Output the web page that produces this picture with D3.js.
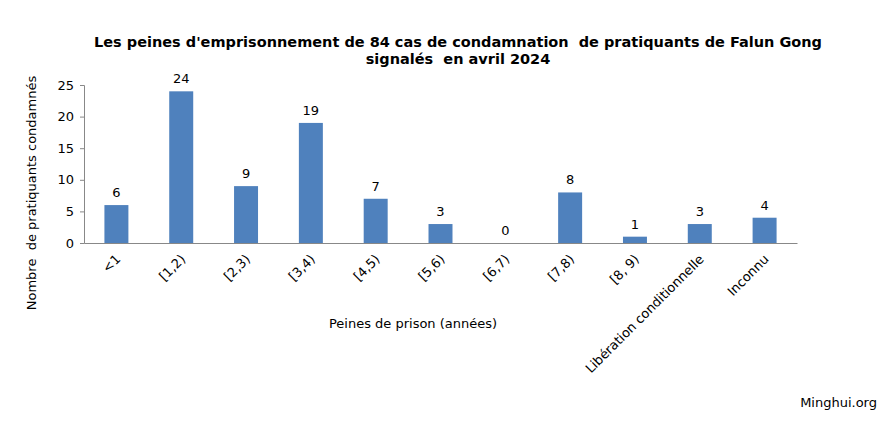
<!DOCTYPE html>
<html><head><meta charset="utf-8">
<script src="https://cdn.jsdelivr.net/npm/d3@7"></script>
<style>body{margin:0;background:#fff}svg{font-family:"DejaVu Sans",Verdana,sans-serif}svg text{white-space:pre}</style>
</head><body>
<script>
const categories = ["<1","[1,2)","[2,3)","[3,4)","[4,5)","[5,6)","[6,7)","[7,8)","[8, 9)","Libération conditionnelle","Inconnu"];
const values = [6,24,9,19,7,3,0,8,1,3,4];
const yTicks = [0,5,10,15,20,25];
const titleLines = ["Les peines d'emprisonnement de 84 cas de condamnation  de pratiquants de Falun Gong","signalés  en avril 2024"];

const W=896,H=432;
const svg=d3.select("body").append("svg").attr("width",W).attr("height",H);
const m={l:84,r:797,t:85,b:243};
const x=d3.scaleBand().domain(categories).range([m.l,m.r]).paddingInner(0.63).paddingOuter(0.315);
const y=d3.scaleLinear().domain([0,25]).range([m.b,m.t]);

svg.selectAll("text.title").data(titleLines).join("text")
 .attr("x",458).attr("y",(d,i)=>47+i*17).attr("text-anchor","middle")
 .attr("font-size",14.5).attr("font-weight","bold").attr("fill","#000").text(d=>d);

const ya=svg.append("g").attr("transform",`translate(${m.l},0)`)
 .call(d3.axisLeft(y).tickValues(yTicks).tickSize(4).tickPadding(6));
ya.select(".domain").attr("stroke","#888");
ya.selectAll(".tick line").attr("stroke","#888");
ya.selectAll("text").attr("font-size",13).attr("fill","#000").attr("font-family","DejaVu Sans, Verdana, sans-serif");

svg.selectAll("rect.bar").data(values).join("rect")
 .attr("x",(d,i)=>x(categories[i])).attr("y",d=>y(d))
 .attr("width",x.bandwidth()).attr("height",d=>y(0)-y(d)).attr("fill","#4f81bd");

const xa=svg.append("g").attr("transform",`translate(0,${m.b})`)
 .call(d3.axisBottom(x).tickSize(0).tickSizeOuter(0));
xa.select(".domain").attr("stroke","#888");
xa.selectAll("text").attr("font-size",13).attr("fill","#000")
 .attr("font-family","DejaVu Sans, Verdana, sans-serif")
 .attr("text-anchor","end").attr("dy",null).attr("y",0)
 .attr("transform","translate(5,17) rotate(-45)");

svg.selectAll("text.val").data(values).join("text")
 .attr("x",(d,i)=>x(categories[i])+x.bandwidth()/2).attr("y",d=>y(d)-8)
 .attr("text-anchor","middle").attr("font-size",13).attr("fill","#000").text(d=>d);

svg.append("text").attr("transform","translate(36,193) rotate(-90)").attr("text-anchor","middle")
 .attr("font-size",13).attr("fill","#000").text("Nombre  de pratiquants condamnés");
svg.append("text").attr("x",413).attr("y",328).attr("text-anchor","middle")
 .attr("font-size",13).attr("fill","#000").text("Peines de prison (années)");
svg.append("text").attr("x",877).attr("y",407).attr("text-anchor","end")
 .attr("font-size",13).attr("fill","#000").text("Minghui.org");
</script>
</body></html>
